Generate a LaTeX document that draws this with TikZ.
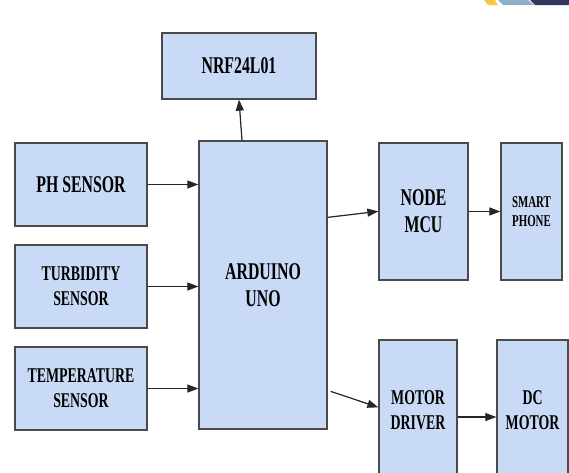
\documentclass[tikz,border=0pt]{standalone}
\usepackage{fontspec}
\setmainfont[FakeStretch=0.66]{Liberation Serif}
\usetikzlibrary{arrows.meta,calc}
\definecolor{boxfill}{HTML}{C9DAF6}
\definecolor{boxline}{HTML}{4A4A4A}
\definecolor{stripeY}{HTML}{F5C842}
\definecolor{stripeB}{HTML}{8FAEC8}
\definecolor{stripeD}{HTML}{33365A}
\begin{document}
\begin{tikzpicture}[x=1pt,y=-1pt,
  blk/.style={draw=boxline,fill=boxfill,line width=1.3pt,inner sep=0pt,align=center,
    font=\bfseries\fontsize{24}{27}\selectfont},
  midtxt/.style={font=\bfseries\fontsize{21}{25}\selectfont},
  smalltxt/.style={font=\bfseries\fontsize{16.5}{19}\selectfont},
  arr/.style={-{Triangle[length=11pt,width=8pt]},line width=1.2pt,draw=black!85,fill=black!85}]
\useasboundingbox (0,0) rectangle (569,472);
\clip (0,0) rectangle (569,472);
\fill[white] (0,0) rectangle (569,472);
% logo stripes
\fill[stripeY] (484,0) -- (495,0) -- (498,5) -- (488,5) -- cycle;
\fill[stripeB] (498,0) -- (528,0) -- (534,5) -- (503,5) -- cycle;
\fill[stripeD] (530,0) -- (569,0) -- (569,5) -- (535,5) -- cycle;
% blocks
\node[blk,minimum width=154,minimum height=66] (nrf) at (239,66) {NRF24L01};
\node[blk,minimum width=128,minimum height=288] (ard) at (263,285) {ARDUINO\\UNO};
\node[blk,minimum width=132,minimum height=83] (ph) at (81,184.5) {PH SENSOR};
\node[blk,midtxt,minimum width=132,minimum height=83] (tur) at (81,286.5) {TURBIDITY\\SENSOR};
\node[blk,midtxt,minimum width=132,minimum height=83] (tem) at (81,388.5) {TEMPERATURE\\SENSOR};
\node[blk,minimum width=89,minimum height=137] (mcu) at (423.5,211.5) {NODE\\MCU};
\node[blk,smalltxt,minimum width=61,minimum height=137] (sp) at (531.5,211.5) {SMART\\PHONE};
\node[blk,midtxt,minimum width=78,minimum height=140] (drv) at (418,410) {MOTOR\\DRIVER};
\node[blk,midtxt,minimum width=71,minimum height=140] (dc) at (532.5,410) {DC\\MOTOR};
% connectors
\draw[arr] ([xshift=-21pt]ard.north) -- (nrf.south);
\draw[arr] (ph.east) -- (ph.east -| ard.west);
\draw[arr] (tur.east) -- (tur.east -| ard.west);
\draw[arr] (tem.east) -- (tem.east -| ard.west);
\draw[arr] ([yshift=-77pt]ard.north east) -- ([yshift=-69pt]mcu.north west);
\draw[arr] (mcu.east) -- (sp.west);
\draw[arr] ([xshift=3pt,yshift=-251pt]ard.north east) -- ([yshift=-68pt]drv.north west);
\draw[arr] ([yshift=-7pt]drv.east) -- ([yshift=-7pt]dc.west);
\end{tikzpicture}
\end{document}
